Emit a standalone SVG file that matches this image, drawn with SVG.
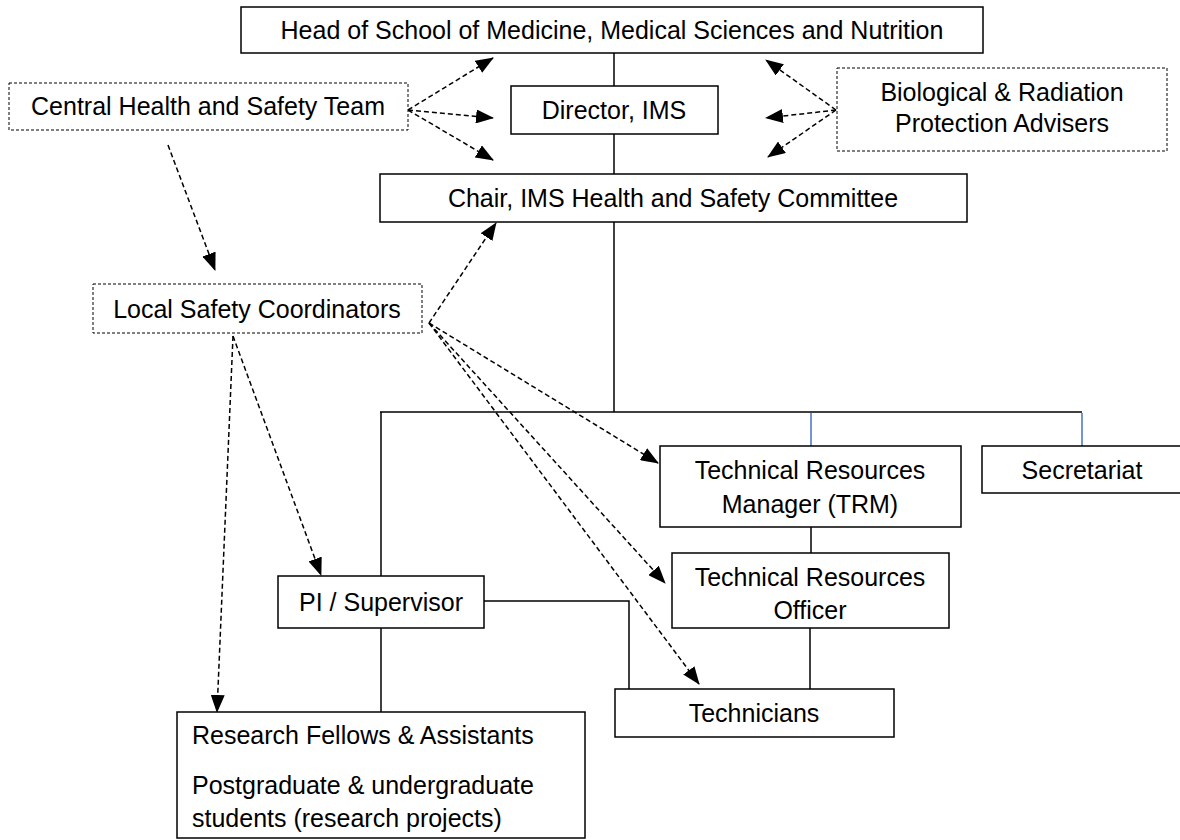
<svg xmlns="http://www.w3.org/2000/svg" width="1180" height="840" viewBox="0 0 1180 840">
<defs>
<marker id="ah" viewBox="0 0 18 14" refX="17" refY="7" markerWidth="18" markerHeight="14" markerUnits="userSpaceOnUse" orient="auto">
<path d="M0,0 L18,7 L0,14 Z" fill="#000"/>
</marker>
</defs>
<style>
.box{fill:#fff;stroke:#000;stroke-width:1.5}
.dbox{fill:#fff;stroke:#000;stroke-width:1;stroke-dasharray:3,2}
.t{font-family:"Liberation Sans",Arial,sans-serif;font-size:25px;fill:#000;text-anchor:middle}
.tl{font-family:"Liberation Sans",Arial,sans-serif;font-size:25px;fill:#000;text-anchor:start}
.ln{fill:none;stroke:#000;stroke-width:1.5}
.bl{fill:none;stroke:#4472C4;stroke-width:1.5}
.da{fill:none;stroke:#000;stroke-width:1.5;stroke-dasharray:5,3;marker-end:url(#ah)}
</style>
<rect width="1180" height="840" fill="#fff"/>
<g id="connectors">
<line class="ln" x1="614" y1="53" x2="614" y2="86"/>
<line class="ln" x1="614" y1="134" x2="614" y2="174"/>
<line class="ln" x1="614" y1="222" x2="614" y2="412"/>
<line class="ln" x1="380" y1="412" x2="1082" y2="412"/>
<line class="ln" x1="381" y1="412" x2="381" y2="576"/>
<line class="bl" x1="811" y1="413" x2="811" y2="446"/>
<line class="bl" x1="1082" y1="413" x2="1082" y2="446"/>
<line class="ln" x1="811" y1="527" x2="811" y2="553"/>
<line class="ln" x1="810" y1="628" x2="810" y2="689"/>
<polyline class="ln" points="484,601 629,601 629,689"/>
<line class="ln" x1="381" y1="628" x2="381" y2="712"/>
<line class="da" x1="408" y1="110" x2="493" y2="58"/>
<line class="da" x1="408" y1="110" x2="493" y2="118"/>
<line class="da" x1="408" y1="110" x2="493" y2="160"/>
<line class="da" x1="836" y1="110" x2="766" y2="60"/>
<line class="da" x1="836" y1="110" x2="766" y2="118"/>
<line class="da" x1="836" y1="110" x2="768" y2="157"/>
<line class="da" x1="168" y1="145" x2="215" y2="270"/>
<line class="da" x1="429" y1="323" x2="496" y2="223"/>
<line class="da" x1="429" y1="323" x2="658" y2="463"/>
<line class="da" x1="429" y1="323" x2="665" y2="583"/>
<line class="da" x1="429" y1="323" x2="699" y2="684"/>
<line class="da" x1="233" y1="336" x2="321" y2="575"/>
<line class="da" x1="233" y1="336" x2="217" y2="712"/>
</g>
<g id="head"><rect class="box" x="241" y="7" width="742" height="46"/><text class="t" x="612" y="39">Head of School of Medicine, Medical Sciences and Nutrition</text></g>
<g id="central"><rect class="dbox" x="9" y="83" width="399" height="47"/><text class="t" x="208" y="115">Central Health and Safety Team</text></g>
<g id="director"><rect class="box" x="511" y="86" width="207" height="48"/><text class="t" x="614" y="119">Director, IMS</text></g>
<g id="advisers"><rect class="dbox" x="837" y="68" width="330" height="83"/><text class="t" x="1002" y="101">Biological &amp; Radiation</text><text class="t" x="1002" y="132">Protection Advisers</text></g>
<g id="chair"><rect class="box" x="380" y="174" width="587" height="48"/><text class="t" x="673" y="207">Chair, IMS Health and Safety Committee</text></g>
<g id="lsc"><rect class="dbox" x="93" y="284" width="329" height="49"/><text class="t" x="257" y="318">Local Safety Coordinators</text></g>
<g id="trm"><rect class="box" x="660" y="446" width="301" height="81"/><text class="t" x="810" y="479">Technical Resources</text><text class="t" x="810" y="513">Manager (TRM)</text></g>
<g id="secretariat"><rect class="box" x="982" y="446" width="210" height="47"/><text class="t" x="1082" y="479">Secretariat</text></g>
<g id="tro"><rect class="box" x="672" y="553" width="277" height="75"/><text class="t" x="810" y="586">Technical Resources</text><text class="t" x="810" y="619">Officer</text></g>
<g id="pi"><rect class="box" x="278" y="576" width="206" height="52"/><text class="t" x="381" y="611">PI / Supervisor</text></g>
<g id="technicians"><rect class="box" x="615" y="689" width="279" height="48"/><text class="t" x="754" y="722">Technicians</text></g>
<g id="research"><rect class="box" x="177" y="712" width="408" height="126"/><text class="tl" x="192" y="744">Research Fellows &amp; Assistants</text><text class="tl" x="192" y="794">Postgraduate &amp; undergraduate</text><text class="tl" x="192" y="827">students (research projects)</text></g>
</svg>
